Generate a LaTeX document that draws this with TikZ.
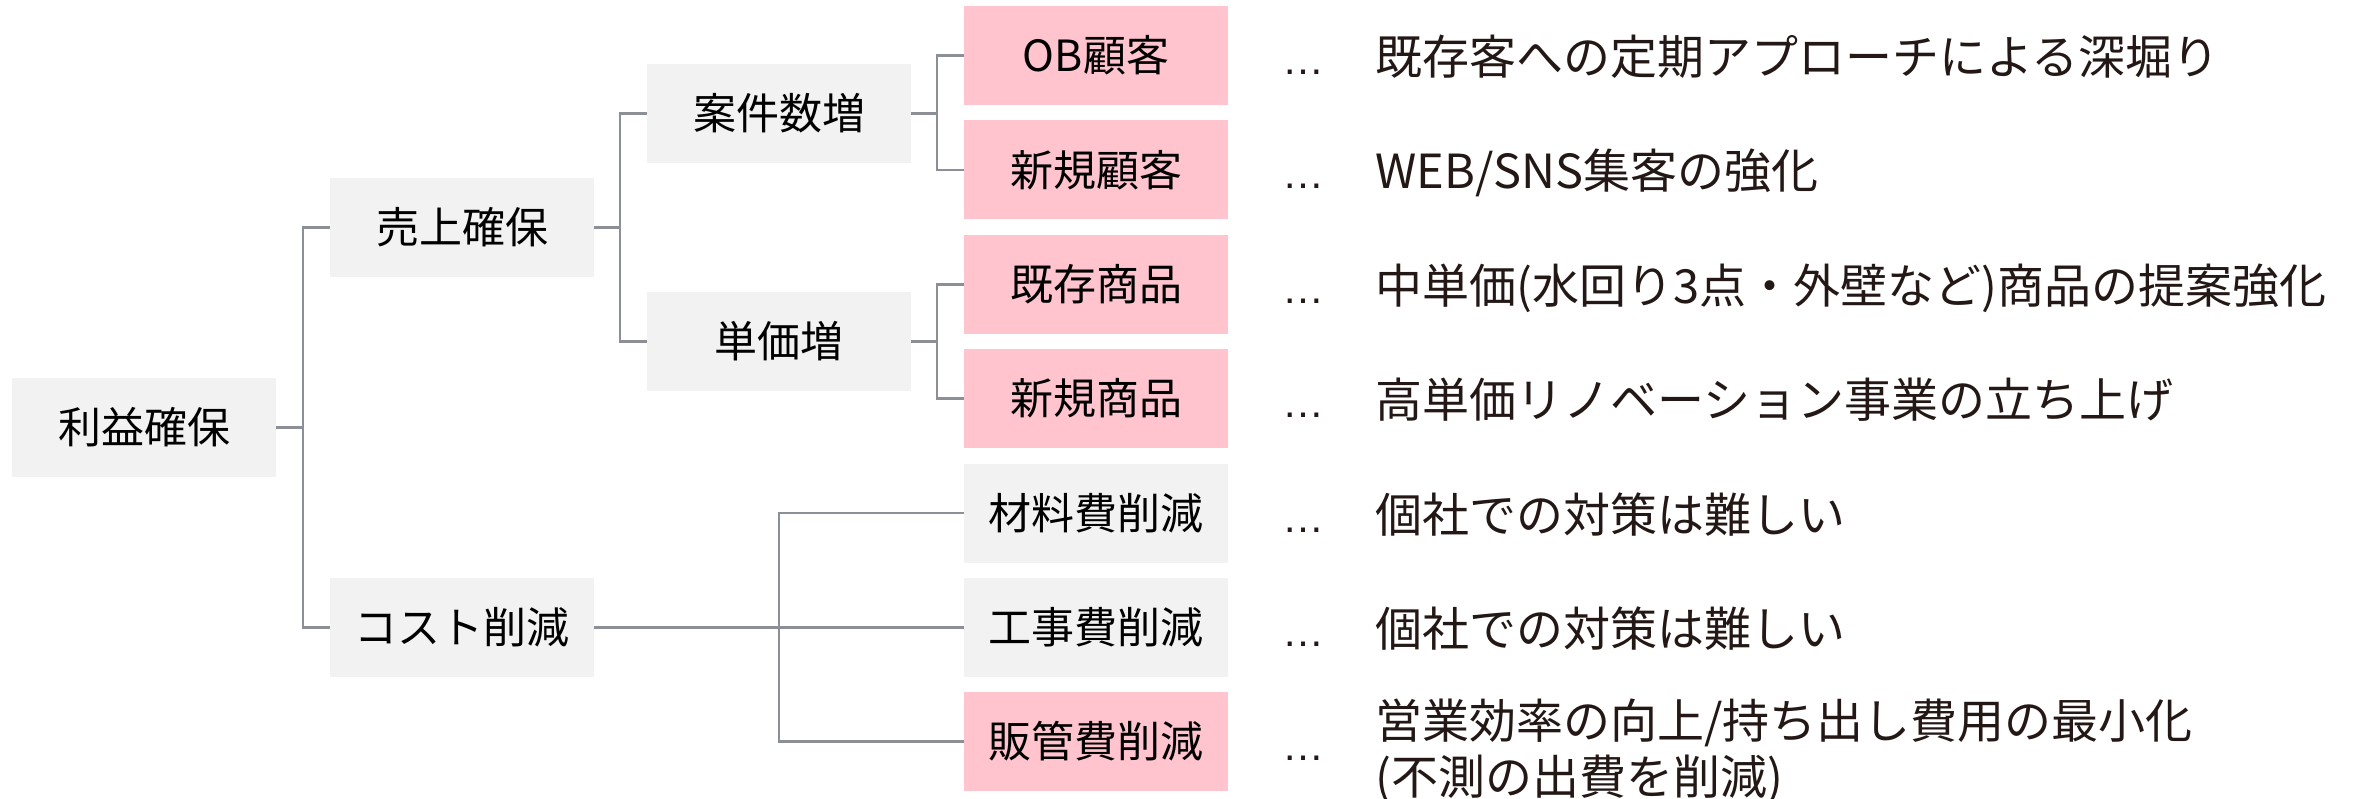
\documentclass[tikz,border=0pt]{standalone}
\usepackage{fontspec}
\newfontfamily\jp{Noto Sans CJK JP}
\newfontfamily\lat{Liberation Sans}
\definecolor{boxgray}{HTML}{F2F2F2}
\definecolor{boxpink}{HTML}{FFC4CE}
\definecolor{linegray}{HTML}{8C9096}
\definecolor{desctext}{HTML}{231815}
\tikzset{
  graybox/.style={fill=boxgray, minimum width=264pt, minimum height=99pt, inner sep=0pt,
    font=\jp\fontsize{43}{50}\selectfont, text=black},
  pinkbox/.style={graybox, fill=boxpink},
  conn/.style={draw=linegray, line width=2.2pt},
  desc/.style={anchor=base west, inner sep=0pt, font=\jp\fontsize{47}{56}\selectfont, text=desctext},
  ellip/.style={anchor=base west, inner sep=0pt, font=\lat\fontsize{42}{48}\selectfont, text=desctext},
}
\begin{document}
\begin{tikzpicture}[x=1pt,y=-1pt]
\useasboundingbox (0,0) rectangle (2360,799);
% boxes
\node[graybox] (r)  at (144,427.5) {利益確保};
\node[graybox] (a)  at (462,227.5) {売上確保};
\node[graybox] (b)  at (462,627.5) {コスト削減};
\node[graybox] (a1) at (779,113.5) {案件数増};
\node[graybox] (a2) at (779,341.5) {単価増};
\node[pinkbox] (c1) at (1096,55.5) {OB顧客};
\node[pinkbox] (c2) at (1096,170) {新規顧客};
\node[pinkbox] (c3) at (1096,284.5) {既存商品};
\node[pinkbox] (c4) at (1096,398.5) {新規商品};
\node[graybox] (c5) at (1096,513) {材料費削減};
\node[graybox] (c6) at (1096,627.5) {工事費削減};
\node[pinkbox] (c7) at (1096,741.5) {販管費削減};
% junctions
\coordinate (j0) at (303,427.5);
\coordinate (j1) at (620,227.5);
\coordinate (j2) at (937,113.5);
\coordinate (j3) at (937,341.5);
\coordinate (j4) at (779,627.5);
% connectors
\draw[conn] (r.east) -- (j0);
\draw[conn] (a.west) -| (j0) |- (b.west);
\draw[conn] (a.east) -- (j1);
\draw[conn] (a1.west) -| (j1) |- (a2.west);
\draw[conn] (a1.east) -- (j2);
\draw[conn] (c1.west) -| (j2) |- (c2.west);
\draw[conn] (a2.east) -- (j3);
\draw[conn] (c3.west) -| (j3) |- (c4.west);
\draw[conn] (b.east) -- (c6.west);
\draw[conn] (c5.west) -| (j4) |- (c7.west);
% ellipses
\node[ellip] (e1) at (1282,74.5) {…};
\node[ellip] (e2) at (1282,189) {…};
\node[ellip] (e3) at (1282,303.5) {…};
\node[ellip] (e4) at (1282,417.5) {…};
\node[ellip] (e5) at (1282,532) {…};
\node[ellip] (e6) at (1282,646.5) {…};
\node[ellip] (e7) at (1282,760.5) {…};
% descriptions
\node[desc] (d1) at (1375,74.5) {既存客への定期アプローチによる深堀り};
\node[desc] (d2) at (1375,189) {WEB/SNS集客の強化};
\node[desc] (d3) at (1375,303.5) {中単価(水回り3点・外壁など)商品の提案強化};
\node[desc] (d4) at (1375,417.5) {高単価リノベーション事業の立ち上げ};
\node[desc] (d5) at (1375,532) {個社での対策は難しい};
\node[desc] (d6) at (1375,646.5) {個社での対策は難しい};
\node[desc] (d7a) at (1375,738.5) {営業効率の向上/持ち出し費用の最小化};
\node[desc] (d7b) at (1375,794.5) {(不測の出費を削減)};
\end{tikzpicture}
\end{document}
